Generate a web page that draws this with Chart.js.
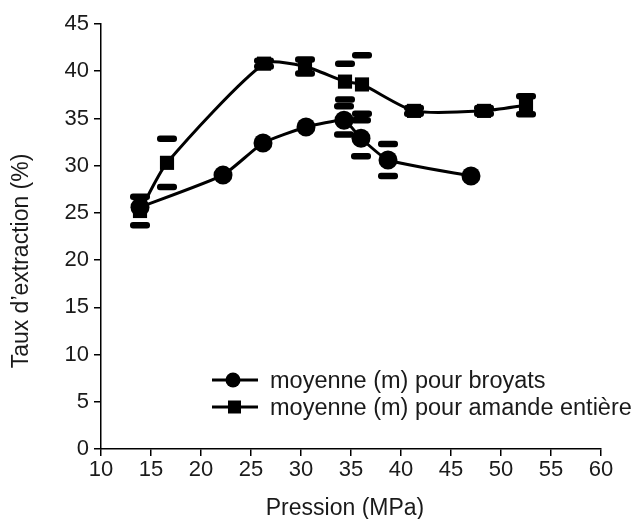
<!DOCTYPE html>
<html>
<head>
<meta charset="utf-8">
<script src="https://cdn.jsdelivr.net/npm/chart.js@4.4.0/dist/chart.umd.min.js"></script>
<style>
html,body{margin:0;padding:0;background:#fff;overflow:hidden}
#wrap{width:638px;height:519px;position:relative}
</style>
</head>
<body>
<div id="wrap"><canvas id="c"></canvas></div>
<script>
// ---- data ----
const pressureBroyats = [13.9, 22.2, 26.2, 30.5, 34.3, 36.0, 38.7, 47.0];
const rateBroyats     = [25.6, 29.0, 32.4, 34.1, 34.8, 32.9, 30.6, 28.9];
const errBroyats      = [0, 0, 0, 0, 1.5, 1.9, 1.7, 0];

const pressureAmande  = [13.9, 16.6, 26.3, 30.4, 34.4, 36.1, 41.3, 48.3, 52.5];
const rateAmande      = [25.2, 30.3, 40.8, 40.5, 38.9, 38.6, 35.8, 35.8, 36.4];
const errAmande       = [1.5, 2.55, 0.3, 0.75, 1.9, 3.1, 0.3, 0.3, 0.95];

const xTickValues = [10, 15, 20, 25, 30, 35, 40, 45, 50, 55, 60];
const yTickValues = [0, 5, 10, 15, 20, 25, 30, 35, 40, 45];

const seriesLabels = ['moyenne (m) pour broyats', 'moyenne (m) pour amande entière'];
const xTitle = 'Pression (MPa)';
const yTitle = 'Taux d’extraction (%)';

const FONT = "'Liberation Sans', Arial, Helvetica, sans-serif";
const errorSets = [errBroyats, errAmande];

// ---- plugins ----
const capsPlugin = {
  id: 'caps',
  afterDatasetsDraw(chart) {
    const ctx = chart.ctx, xs = chart.scales.x, ys = chart.scales.y;
    ctx.save();
    ctx.fillStyle = '#000';
    chart.data.datasets.forEach((ds, di) => {
      const errs = errorSets[di];
      ds.data.forEach((p, i) => {
        const e = errs[i];
        if (!e) return;
        const px = xs.getPixelForValue(p.x);
        [p.y + e, p.y - e].forEach(v => {
          const py = ys.getPixelForValue(v);
          ctx.beginPath();
          ctx.roundRect(px - 10, py - 3.25, 20, 6.5, 3);
          ctx.fill();
        });
      });
    });
    ctx.restore();
  }
};

const legendTitlesPlugin = {
  id: 'legendTitles',
  afterDraw(chart) {
    const ctx = chart.ctx;
    ctx.save();
    ctx.fillStyle = '#1a1a1a';
    ctx.strokeStyle = '#000';
    // legend
    const rows = [380, 407];
    chart.data.datasets.forEach((ds, i) => {
      const y = rows[i];
      ctx.lineWidth = 3;
      ctx.beginPath();
      ctx.moveTo(212, y); ctx.lineTo(258, y);
      ctx.stroke();
      ctx.fillStyle = '#000';
      ctx.beginPath();
      if (ds.pointStyle === 'circle') {
        ctx.arc(233, y, 7.5, 0, Math.PI * 2);
      } else {
        ctx.rect(228, y - 6.5, 13, 13);
      }
      ctx.fill();
      ctx.fillStyle = '#1a1a1a';
      ctx.font = '23.5px ' + FONT;
      ctx.textAlign = 'left';
      ctx.textBaseline = 'alphabetic';
      ctx.fillText(ds.label, 270, y + 8);
    });
    // axis titles
    ctx.font = '23px ' + FONT;
    ctx.textAlign = 'center';
    ctx.textBaseline = 'alphabetic';
    ctx.fillText(xTitle, 345, 515);
    ctx.save();
    ctx.translate(22, 261);
    ctx.rotate(-Math.PI / 2);
    ctx.textBaseline = 'middle';
    ctx.fillText(yTitle, 0, 0);
    ctx.restore();
    ctx.restore();
  }
};

// ---- chart ----
new Chart(document.getElementById('c'), {
  type: 'line',
  data: {
    datasets: [
      {
        label: seriesLabels[0],
        data: pressureBroyats.map((x, i) => ({x, y: rateBroyats[i]})),
        borderColor: '#000',
        backgroundColor: '#000',
        borderWidth: 3,
        tension: 0.15,
        pointStyle: 'circle',
        pointRadius: 9.5,
        pointBackgroundColor: '#000',
        pointBorderWidth: 0,
        fill: false
      },
      {
        label: seriesLabels[1],
        data: pressureAmande.map((x, i) => ({x, y: rateAmande[i]})),
        borderColor: '#000',
        backgroundColor: '#000',
        borderWidth: 3,
        tension: 0.22,
        pointStyle: 'rect',
        pointRadius: 10,
        pointBackgroundColor: '#000',
        pointBorderWidth: 0,
        fill: false
      }
    ]
  },
  options: {
    responsive: true,
    maintainAspectRatio: false,
    animation: false,
    layout: { padding: { left: 0, top: 24, right: 37, bottom: 0 } },
    plugins: { legend: { display: false }, tooltip: { enabled: false } },
    scales: {
      x: {
        type: 'linear',
        min: 10, max: 60,
        afterBuildTicks(s) { s.ticks = xTickValues.map(v => ({ value: v })); },
        afterFit(s) { s.height = 70; },
        ticks: { font: { family: FONT, size: 22 }, color: '#1a1a1a', padding: 1, maxRotation: 0, autoSkip: false },
        grid: { drawOnChartArea: false, tickLength: 7, color: '#000', lineWidth: 1.5 },
        border: { color: '#000', width: 1.5 }
      },
      y: {
        type: 'linear',
        min: 0, max: 45,
        afterBuildTicks(s) { s.ticks = yTickValues.map(v => ({ value: v })); },
        afterFit(s) { s.width = 101; },
        ticks: { font: { family: FONT, size: 22 }, color: '#1a1a1a', padding: 5, autoSkip: false },
        grid: { drawOnChartArea: false, tickLength: 7, color: '#000', lineWidth: 1.5 },
        border: { color: '#000', width: 1.5 }
      }
    }
  },
  plugins: [capsPlugin, legendTitlesPlugin]
});
</script>
</body>
</html>
